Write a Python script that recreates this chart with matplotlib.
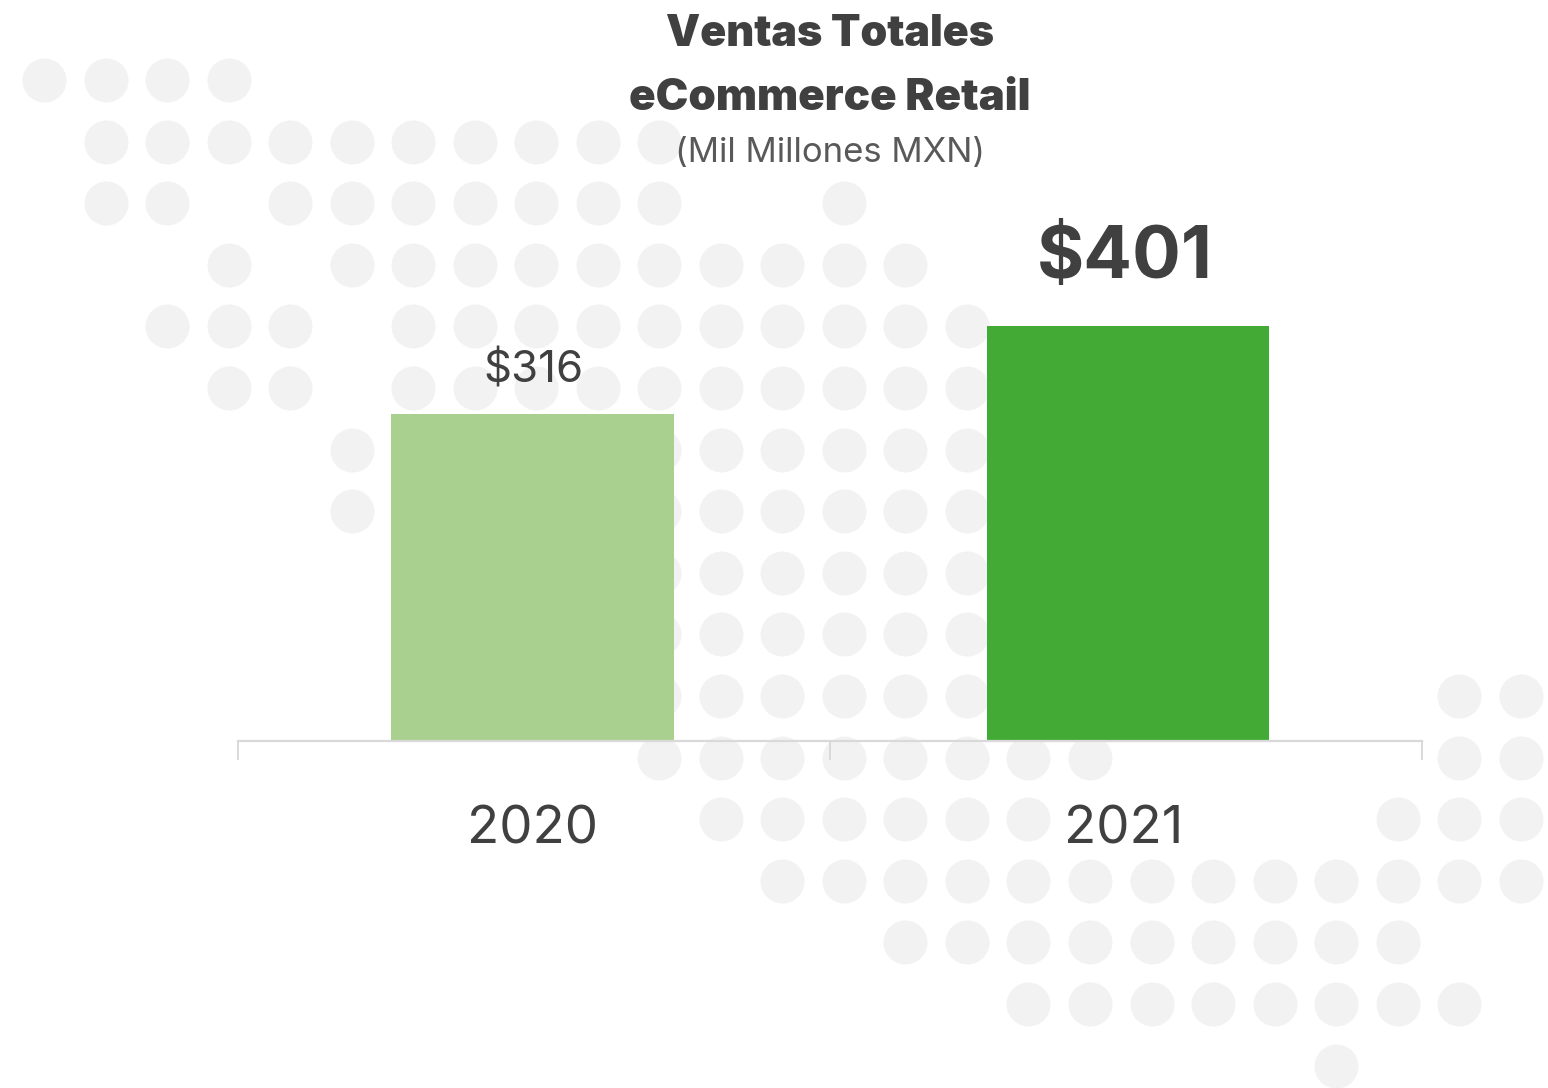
import matplotlib
matplotlib.use("Agg")
import matplotlib.pyplot as plt

categories = ["2020", "2021"]
values = [316, 401]
bar_colors = ["#AAD08F", "#43AB35"]
value_labels = ["$316", "$401"]
title_lines = ["Ventas Totales", "eCommerce Retail"]
subtitle = "(Mil Millones MXN)"

# decorative dot map: row index -> occupied column indices
dot_rows = {
    0: [0, 1, 2, 3],
    1: list(range(1, 11)),
    2: [1, 2, 4, 5, 6, 7, 8, 9, 10, 13],
    3: [3] + list(range(5, 15)),
    4: [2, 3, 4] + list(range(6, 16)),
    5: [3, 4] + list(range(6, 16)),
    6: [5] + list(range(10, 16)),
    7: [5] + list(range(10, 16)),
    8: list(range(10, 16)),
    9: list(range(10, 16)),
    10: list(range(10, 16)) + [23, 24],
    11: list(range(10, 18)) + [23, 24],
    12: list(range(11, 17)) + [22, 23, 24],
    13: list(range(12, 25)),
    14: list(range(14, 23)),
    15: list(range(16, 24)),
    16: [21],
}

W, H = 1548, 1088
TEXT = "#404040"
FONT = "Inter"
fig = plt.figure(figsize=(W / 100, H / 100), dpi=100, facecolor="white")

bg = fig.add_axes([0, 0, 1, 1], zorder=0)
bg.set_xlim(0, W)
bg.set_ylim(H, 0)
bg.axis("off")
xs = [44 + 61.53 * c for r, cols in dot_rows.items() for c in cols]
ys = [80 + 61.6 * r for r, cols in dot_rows.items() for c in cols]
bg.scatter(xs, ys, s=(44 * 0.72) ** 2, color="#F2F2F2", linewidths=0)

ax = fig.add_axes([238 / W, (H - 741) / H, (1422 - 238) / W, 741 / H], zorder=1)
ax.patch.set_alpha(0)
x0, x1 = -0.4945, 1.4937
ax.set_xlim(x0, x1)
ax.set_ylim(0, 741 / 1.035)
ax.bar(range(2), values, width=0.475, color=bar_colors, linewidth=0)
for s in ["top", "left", "right"]:
    ax.spines[s].set_visible(False)
ax.spines["bottom"].set_color("#D9D9D9")
ax.spines["bottom"].set_linewidth(1.6)
ax.set_yticks([])
ax.set_xticks([x0, (x0 + x1) / 2, x1], labels=[])
ax.tick_params(axis="x", length=14, width=1.4, color="#D9D9D9")
for i, c in enumerate(categories):
    ax.annotate(c, (i, 0), xytext=(-3.5 * i, -87 * 0.72 - 1.5), textcoords="offset points", ha="center",
                va="center", fontsize=38, color=TEXT, family=FONT)
ax.annotate(value_labels[0], (0, values[0]), xytext=(0.5, 31), textcoords="offset points",
            ha="center", va="center", fontsize=31.5, color=TEXT, family=FONT)
ax.annotate(value_labels[1], (1, values[1]), xytext=(-2, 48), textcoords="offset points",
            ha="center", va="center", fontsize=52, fontweight="bold", color=TEXT, family=FONT)

fig.text(830 / W, 1 - 35 / H, title_lines[0], ha="center", va="center", fontsize=31,
         fontweight="black", color=TEXT, family=FONT)
fig.text(830 / W, 1 - 98 / H, title_lines[1], ha="center", va="center", fontsize=31.5,
         fontweight="black", color=TEXT, family=FONT)
fig.text(830 / W, 1 - 153 / H, subtitle, ha="center", va="center", fontsize=25,
         color="#595959", family=FONT)

fig.savefig("out.png", dpi=100)
